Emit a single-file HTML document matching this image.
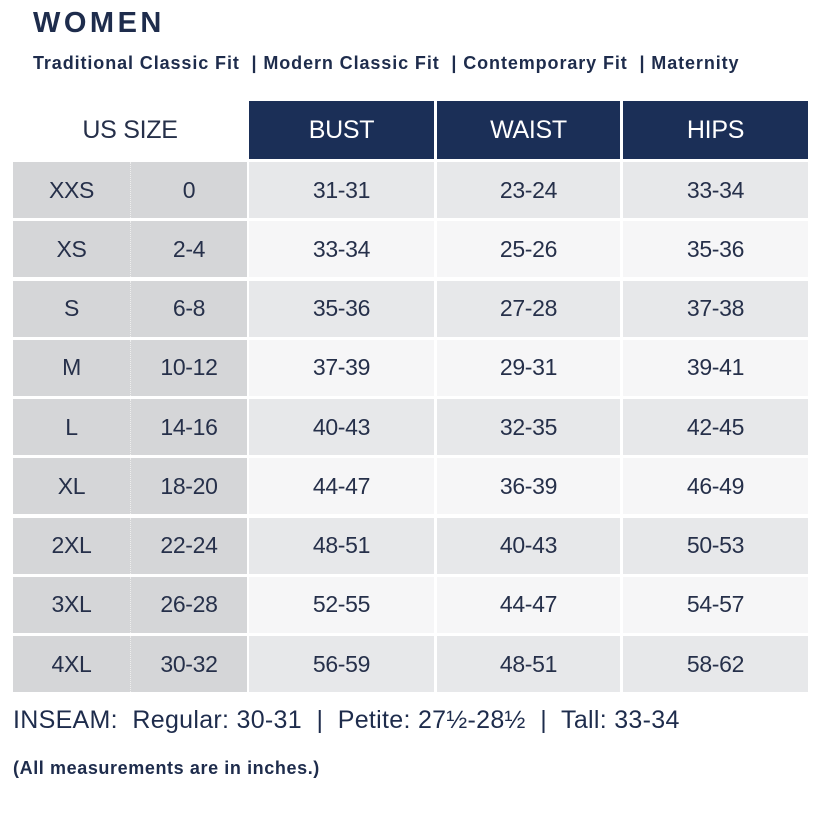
<!DOCTYPE html>
<html><head><style>
body{margin:0;width:828px;height:828px;background:#fff;position:relative;overflow:hidden;font-family:"Liberation Sans",sans-serif;color:#26304a}
.a{position:absolute}
.c{position:absolute;display:flex;align-items:center;justify-content:center;font-size:23px;letter-spacing:-0.3px}
.h{background:#1b2f57;color:#fff;font-size:25px}
</style></head><body>
<div class="a" style="left:33px;top:7px;font-size:29px;font-weight:bold;letter-spacing:3.5px;color:#1e2c4c">WOMEN</div>
<div class="a" style="left:33px;top:53px;font-size:18px;font-weight:bold;color:#1e2c4c;letter-spacing:0.9px;white-space:nowrap">Traditional Classic Fit &nbsp;| Modern Classic Fit &nbsp;| Contemporary Fit &nbsp;| Maternity</div>
<div class="c" style="left:13px;top:101px;width:234px;height:58px;font-size:25px">US SIZE</div>
<div class="c h" style="left:249px;top:101px;width:185px;height:58px">BUST</div>
<div class="c h" style="left:437px;top:101px;width:183px;height:58px">WAIST</div>
<div class="c h" style="left:623px;top:101px;width:185px;height:58px">HIPS</div>
<div id="t"></div>
<div class="a" style="left:13px;top:706px;font-size:25px;color:#1e2c4c;letter-spacing:0.3px">INSEAM:&nbsp; Regular: 30-31 &nbsp;|&nbsp; Petite: 27½-28½ &nbsp;|&nbsp; Tall: 33-34</div>
<div class="a" style="left:13px;top:758px;font-size:18px;font-weight:bold;color:#1e2c4c;letter-spacing:0.6px;white-space:nowrap">(All measurements are in inches.)</div>
<script>
var d=[["XXS","0","31-31","23-24","33-34"],["XS","2-4","33-34","25-26","35-36"],["S","6-8","35-36","27-28","37-38"],["M","10-12","37-39","29-31","39-41"],["L","14-16","40-43","32-35","42-45"],["XL","18-20","44-47","36-39","46-49"],["2XL","22-24","48-51","40-43","50-53"],["3XL","26-28","52-55","44-47","54-57"],["4XL","30-32","56-59","48-51","58-62"]];
var cols=[[13,117],[130,117],[249,185],[437,183],[623,185]],h="";
d.forEach(function(r,i){var y=162+i*59.25;r.forEach(function(v,j){var bg=j<2?"#d5d6d8":(i%2?"#f6f6f7":"#e7e8ea");
h+='<div class="c" style="left:'+cols[j][0]+'px;top:'+y+'px;width:'+cols[j][1]+'px;height:56px;background:'+bg+(j==1?';border-left:1px dotted #eee;box-sizing:border-box':'')+'">'+v+'</div>';});});
document.getElementById("t").innerHTML=h;
</script>
</body></html>
